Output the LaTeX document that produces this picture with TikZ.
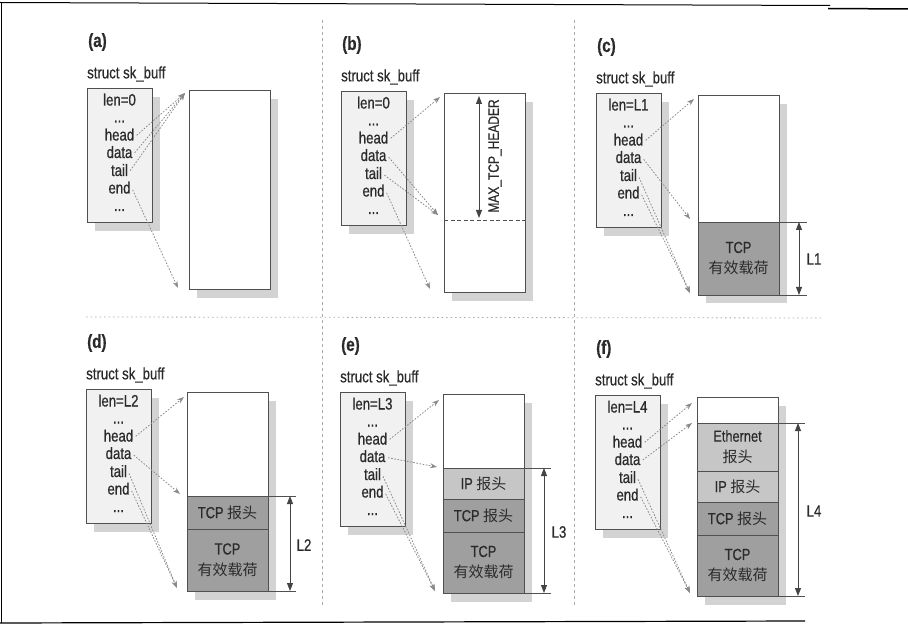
\documentclass[tikz,border=0pt]{standalone}
\usepackage{fontspec}
\setmainfont{Liberation Sans}[FakeStretch=0.8,FakeBold=0.6]
\newfontfamily\cjk{Noto Sans CJK SC}
\usetikzlibrary{arrows.meta,shadows}
\definecolor{txt}{HTML}{2B2B2B}
\definecolor{edge}{HTML}{505050}
\definecolor{sbfill}{HTML}{F1F1F1}
\definecolor{lightseg}{HTML}{C6C6C6}
\definecolor{darkseg}{HTML}{9F9F9F}
\definecolor{ptrc}{HTML}{8A8A8A}
\definecolor{shade}{HTML}{A8A8A8}
\definecolor{dimc}{HTML}{444444}
\definecolor{divc}{HTML}{AAAAAA}
\tikzset{
 every node/.style={text=txt},
 fnt/.style={font=\fontsize{16.5}{19}\selectfont},
 sbox/.style={draw=edge, line width=0.8pt, fill=sbfill, minimum width=65pt, minimum height=134pt, anchor=north west, inner sep=0pt, outer sep=0pt, drop shadow={shadow xshift=8pt, shadow yshift=-9pt, fill=shade}},
 bbox/.style={draw=edge, line width=0.8pt, fill=white, minimum width=81pt, minimum height=199pt, anchor=north west, inner sep=0pt, outer sep=0pt, drop shadow={shadow xshift=8pt, shadow yshift=-9pt, fill=shade}},
 field/.style={fnt, anchor=base, inner sep=1.5pt, text height=9pt, text depth=0pt},
 ttl/.style={fnt, anchor=west, inner sep=0pt},
 plabel/.style={font=\fontsize{19}{19}\selectfont\bfseries, anchor=west, inner sep=0pt},
 seg/.style={draw=edge, line width=0.8pt, minimum width=81pt, anchor=north west, inner sep=0pt, outer sep=0pt, align=center, font=\fontsize{16}{21}\selectfont},
 ptr/.style={draw=ptrc, line width=0.8pt, dash pattern=on 1.6pt off 1.6pt, -{Stealth[length=7pt,width=5pt]}, shorten <=1pt},
 dimline/.style={draw=edge, line width=0.8pt},
 dimarrow/.style={draw=dimc, line width=0.9pt, {Triangle[length=8pt,width=6pt]}-{Triangle[length=8pt,width=6pt]}},
 dimlbl/.style={fnt, inner sep=0pt},
 divider/.style={draw=divc, line width=0.8pt, dash pattern=on 3pt off 3pt},
 frameline/.style={draw=black, line width=1.2pt},
}
\newcommand\zh[1]{{\cjk\fontsize{15}{21}\selectfont #1}}
% prefix, sx, sy, bx, by, letter, len value
\newcommand\skpanel[7]{%
 \node[plabel] (#1-lbl) at ({#2+1},{#3-46}) {(#6)};
 \node[ttl] (#1-ttl) at (#2,{#3-14}) {struct sk\_buff};
 \node[sbox] (#1-box) at (#2,#3) {};
 \node[field] (#1-len) at ({#2+32.5},{#3+17.5}) {len=#7};
 \node[field] (#1-d1) at ({#2+32.5},{#3+34.5}) {...};
 \node[field] (#1-head) at ({#2+32.5},{#3+52.5}) {head};
 \node[field] (#1-data) at ({#2+32.5},{#3+70}) {data};
 \node[field] (#1-tail) at ({#2+32.5},{#3+88}) {tail};
 \node[field] (#1-end) at ({#2+32.5},{#3+105.5}) {end};
 \node[field] (#1-d2) at ({#2+32.5},{#3+123}) {...};
 \node[bbox] (#1-buf) at (#4,#5) {};
}
\begin{document}
\begin{tikzpicture}[x=1pt,y=-1pt]
\useasboundingbox (0,0) rectangle (908,631);
% scan frame lines
\draw[frameline] (1.5,2.5) -- (1.5,623);
\draw[draw=black, line width=1pt] (0,2.5) -- (830,5.5);
\draw[draw=black, line width=1.5pt] (828,8.5) -- (908,9);
\draw[frameline] (0,623) -- (805,621);
% dividers
\draw[divider] (322,20) -- (322,608);
\draw[divider] (574,20) -- (574,608);
\draw[divider, dash pattern=on 1.5pt off 3pt] (86,317) -- (824,318);

% ---------- (a)
\skpanel{a}{87}{88}{189}{90}{a}{0}
\coordinate (a-top) at (185,93);
\coordinate (a-bot) at (178,288);
\draw[ptr] (a-head.east) -- (a-top);
\draw[ptr] (a-data.east) -- (a-top);
\draw[ptr] (a-tail.east) -- (a-top);
\draw[ptr] (a-end.east) -- (a-bot);

% ---------- (b)
\skpanel{b}{341}{91}{444}{93}{b}{0}
\draw[draw=edge, line width=0.8pt, dash pattern=on 4pt off 2.5pt] (b-buf.west |- 0,220) coordinate (b-dl) -- (b-buf.east |- 0,220) coordinate (b-dr);
\coordinate (b-at) at (479,96);
\coordinate (b-ab) at (479,218);
\draw[dimarrow] (b-at) -- (b-ab);
\node[font=\fontsize{15}{15}\selectfont, rotate=90, inner sep=0pt] (b-max) at (495,156) {MAX\_TCP\_HEADER};
\coordinate (b-top) at (440,97);
\coordinate (b-mid) at (438,215);
\coordinate (b-bot) at (430,289);
\draw[ptr] (b-head.east) -- (b-top);
\draw[ptr] (b-data.east) -- (b-mid);
\draw[ptr] (b-tail.east) -- (b-mid);
\draw[ptr] (b-end.east) -- (b-bot);

% ---------- (c)
\skpanel{c}{596}{93}{698}{95}{c}{L1}
\node[seg, fill=darkseg, minimum height=73pt] (c-pay) at (698,222) {TCP\\\zh{有效载荷}};
\coordinate (c-l1) at (807,222);
\coordinate (c-l2) at (807,295);
\draw[dimline] (c-pay.north east) -- (c-l1);
\draw[dimline] (c-pay.south east) -- (c-l2);
\coordinate (c-at) at (799,222);
\coordinate (c-ab) at (799,295);
\draw[dimarrow] (c-at) -- (c-ab);
\node[dimlbl] (c-len) at (814,259) {L1};
\coordinate (c-top) at (694,99);
\coordinate (c-mid) at (690,219);
\coordinate (c-bot) at (690,293);
\draw[ptr] (c-head.east) -- (c-top);
\draw[ptr] (c-data.east) -- (c-mid);
\draw[ptr] (c-tail.east) -- (c-bot);
\draw[ptr] (c-end.east) -- (c-bot);

% ---------- (d)
\skpanel{d}{86}{389}{187}{392}{d}{L2}
\node[seg, fill=darkseg, minimum height=33pt] (d-hdr) at (187,496) {TCP \zh{报头}};
\node[seg, fill=darkseg, minimum height=62pt] (d-pay) at (187,529) {TCP\\\zh{有效载荷}};
\coordinate (d-l1) at (296,496);
\coordinate (d-l2) at (296,591);
\draw[dimline] (d-hdr.north east) -- (d-l1);
\draw[dimline] (d-pay.south east) -- (d-l2);
\coordinate (d-at) at (290,496);
\coordinate (d-ab) at (290,591);
\draw[dimarrow] (d-at) -- (d-ab);
\node[dimlbl] (d-len) at (304,545) {L2};
\coordinate (d-top) at (184,397);
\coordinate (d-mid) at (180,494);
\coordinate (d-bot) at (177,588);
\draw[ptr] (d-head.east) -- (d-top);
\draw[ptr] (d-data.east) -- (d-mid);
\draw[ptr] (d-tail.east) -- (d-bot);
\draw[ptr] (d-end.east) -- (d-bot);

% ---------- (e)
\skpanel{e}{340}{392}{443}{394}{e}{L3}
\node[seg, fill=lightseg, minimum height=31pt] (e-ip) at (443,468) {IP \zh{报头}};
\node[seg, fill=darkseg, minimum height=33pt] (e-hdr) at (443,499) {TCP \zh{报头}};
\node[seg, fill=darkseg, minimum height=61pt] (e-pay) at (443,532) {TCP\\\zh{有效载荷}};
\coordinate (e-l1) at (551,468);
\coordinate (e-l2) at (551,593);
\draw[dimline] (e-ip.north east) -- (e-l1);
\draw[dimline] (e-pay.south east) -- (e-l2);
\coordinate (e-at) at (544,468);
\coordinate (e-ab) at (544,593);
\draw[dimarrow] (e-at) -- (e-ab);
\node[dimlbl] (e-len) at (559,532) {L3};
\coordinate (e-top) at (439,400);
\coordinate (e-mid) at (437,467);
\coordinate (e-bot) at (435,591);
\draw[ptr] (e-head.east) -- (e-top);
\draw[ptr] (e-data.east) -- (e-mid);
\draw[ptr] (e-tail.east) -- (e-bot);
\draw[ptr] (e-end.east) -- (e-bot);

% ---------- (f)
\skpanel{f}{595}{395}{697}{397}{f}{L4}
\node[seg, fill=lightseg, minimum height=48pt] (f-eth) at (697,423) {Ethernet\\\zh{报头}};
\node[seg, fill=lightseg, minimum height=31pt] (f-ip) at (697,471) {IP \zh{报头}};
\node[seg, fill=darkseg, minimum height=33pt] (f-hdr) at (697,502) {TCP \zh{报头}};
\node[seg, fill=darkseg, minimum height=61pt] (f-pay) at (697,535) {TCP\\\zh{有效载荷}};
\coordinate (f-l1) at (805,423);
\coordinate (f-l2) at (805,596);
\draw[dimline] (f-eth.north east) -- (f-l1);
\draw[dimline] (f-pay.south east) -- (f-l2);
\coordinate (f-at) at (798,423);
\coordinate (f-ab) at (798,596);
\draw[dimarrow] (f-at) -- (f-ab);
\node[dimlbl] (f-len) at (814,511) {L4};
\coordinate (f-top) at (692,403);
\coordinate (f-mid) at (692,423);
\coordinate (f-bot) at (690,593);
\draw[ptr] (f-head.east) -- (f-top);
\draw[ptr] (f-data.east) -- (f-mid);
\draw[ptr] (f-tail.east) -- (f-bot);
\draw[ptr] (f-end.east) -- (f-bot);
\end{tikzpicture}
\end{document}
